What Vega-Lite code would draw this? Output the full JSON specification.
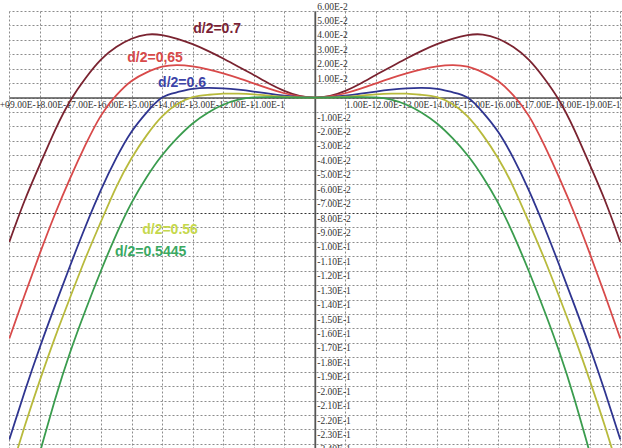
{
  "$schema": "https://vega.github.io/schema/vega-lite/v6.json",
  "width": 613,
  "height": 437,
  "autosize": "none",
  "padding": {"left": 9, "top": 11, "right": 0, "bottom": 0},
  "background": "white",
  "config": {"view": {"stroke": null}},
  "datasets": {
    "curves": [
      {"s":"0.7","x":-1,"y":-0.1},{"s":"0.7","x":-0.95,"y":-0.0715},{"s":"0.7","x":-0.9,"y":-0.0465},{"s":"0.7","x":-0.85,"y":-0.0225},{"s":"0.7","x":-0.8,"y":-0.002},{"s":"0.7","x":-0.75,"y":0.0136},{"s":"0.7","x":-0.7,"y":0.0263},{"s":"0.7","x":-0.65,"y":0.035},{"s":"0.7","x":-0.6,"y":0.0408},{"s":"0.7","x":-0.55,"y":0.0437},{"s":"0.7","x":-0.5,"y":0.0433},{"s":"0.7","x":-0.45,"y":0.0407},{"s":"0.7","x":-0.4,"y":0.037},{"s":"0.7","x":-0.35,"y":0.0324},{"s":"0.7","x":-0.3,"y":0.0271},{"s":"0.7","x":-0.25,"y":0.0214},{"s":"0.7","x":-0.2,"y":0.0157},{"s":"0.7","x":-0.15,"y":0.0098},{"s":"0.7","x":-0.1,"y":0.0047},{"s":"0.7","x":-0.05,"y":0.0012},{"s":"0.7","x":0,"y":0},
      {"s":"0.7","x":0.05,"y":0.0012},{"s":"0.7","x":0.1,"y":0.0047},{"s":"0.7","x":0.15,"y":0.0098},{"s":"0.7","x":0.2,"y":0.0157},{"s":"0.7","x":0.25,"y":0.0214},{"s":"0.7","x":0.3,"y":0.0271},{"s":"0.7","x":0.35,"y":0.0324},{"s":"0.7","x":0.4,"y":0.037},{"s":"0.7","x":0.45,"y":0.0407},{"s":"0.7","x":0.5,"y":0.0433},{"s":"0.7","x":0.55,"y":0.0437},{"s":"0.7","x":0.6,"y":0.0408},{"s":"0.7","x":0.65,"y":0.035},{"s":"0.7","x":0.7,"y":0.0263},{"s":"0.7","x":0.75,"y":0.0136},{"s":"0.7","x":0.8,"y":-0.002},{"s":"0.7","x":0.85,"y":-0.0225},{"s":"0.7","x":0.9,"y":-0.0465},{"s":"0.7","x":0.95,"y":-0.0715},{"s":"0.7","x":1,"y":-0.1},

      {"s":"0.65","x":-1,"y":-0.167},{"s":"0.65","x":-0.95,"y":-0.137},{"s":"0.65","x":-0.9,"y":-0.108},{"s":"0.65","x":-0.85,"y":-0.0805},{"s":"0.65","x":-0.8,"y":-0.0555},{"s":"0.65","x":-0.75,"y":-0.0325},{"s":"0.65","x":-0.7,"y":-0.0125},{"s":"0.65","x":-0.65,"y":0.0015},{"s":"0.65","x":-0.6,"y":0.0115},{"s":"0.65","x":-0.55,"y":0.0175},{"s":"0.65","x":-0.5,"y":0.0214},{"s":"0.65","x":-0.45,"y":0.0225},{"s":"0.65","x":-0.4,"y":0.0216},{"s":"0.65","x":-0.35,"y":0.0196},{"s":"0.65","x":-0.3,"y":0.0168},{"s":"0.65","x":-0.25,"y":0.0135},{"s":"0.65","x":-0.2,"y":0.0098},{"s":"0.65","x":-0.15,"y":0.0062},{"s":"0.65","x":-0.1,"y":0.003},{"s":"0.65","x":-0.05,"y":0.0008},{"s":"0.65","x":0,"y":0},
      {"s":"0.65","x":0.05,"y":0.0008},{"s":"0.65","x":0.1,"y":0.003},{"s":"0.65","x":0.15,"y":0.0062},{"s":"0.65","x":0.2,"y":0.0098},{"s":"0.65","x":0.25,"y":0.0135},{"s":"0.65","x":0.3,"y":0.0168},{"s":"0.65","x":0.35,"y":0.0196},{"s":"0.65","x":0.4,"y":0.0216},{"s":"0.65","x":0.45,"y":0.0225},{"s":"0.65","x":0.5,"y":0.0214},{"s":"0.65","x":0.55,"y":0.0175},{"s":"0.65","x":0.6,"y":0.0115},{"s":"0.65","x":0.65,"y":0.0015},{"s":"0.65","x":0.7,"y":-0.0125},{"s":"0.65","x":0.75,"y":-0.0325},{"s":"0.65","x":0.8,"y":-0.0555},{"s":"0.65","x":0.85,"y":-0.0805},{"s":"0.65","x":0.9,"y":-0.108},{"s":"0.65","x":0.95,"y":-0.137},{"s":"0.65","x":1,"y":-0.167},

      {"s":"0.6","x":-1,"y":-0.237},{"s":"0.6","x":-0.95,"y":-0.204},{"s":"0.6","x":-0.9,"y":-0.173},{"s":"0.6","x":-0.85,"y":-0.144},{"s":"0.6","x":-0.8,"y":-0.116},{"s":"0.6","x":-0.75,"y":-0.089},{"s":"0.6","x":-0.7,"y":-0.064},{"s":"0.6","x":-0.65,"y":-0.042},{"s":"0.6","x":-0.6,"y":-0.0237},{"s":"0.6","x":-0.55,"y":-0.0102},{"s":"0.6","x":-0.5,"y":0},{"s":"0.6","x":-0.45,"y":0.0037},{"s":"0.6","x":-0.4,"y":0.006},{"s":"0.6","x":-0.35,"y":0.0067},{"s":"0.6","x":-0.3,"y":0.0064},{"s":"0.6","x":-0.25,"y":0.0055},{"s":"0.6","x":-0.2,"y":0.0042},{"s":"0.6","x":-0.15,"y":0.0027},{"s":"0.6","x":-0.1,"y":0.0013},{"s":"0.6","x":-0.05,"y":0.0003},{"s":"0.6","x":0,"y":0},
      {"s":"0.6","x":0.05,"y":0.0003},{"s":"0.6","x":0.1,"y":0.0013},{"s":"0.6","x":0.15,"y":0.0027},{"s":"0.6","x":0.2,"y":0.0042},{"s":"0.6","x":0.25,"y":0.0055},{"s":"0.6","x":0.3,"y":0.0064},{"s":"0.6","x":0.35,"y":0.0067},{"s":"0.6","x":0.4,"y":0.006},{"s":"0.6","x":0.45,"y":0.0037},{"s":"0.6","x":0.5,"y":0},{"s":"0.6","x":0.55,"y":-0.0102},{"s":"0.6","x":0.6,"y":-0.0237},{"s":"0.6","x":0.65,"y":-0.042},{"s":"0.6","x":0.7,"y":-0.064},{"s":"0.6","x":0.75,"y":-0.089},{"s":"0.6","x":0.8,"y":-0.116},{"s":"0.6","x":0.85,"y":-0.144},{"s":"0.6","x":0.9,"y":-0.173},{"s":"0.6","x":0.95,"y":-0.204},{"s":"0.6","x":1,"y":-0.237},

      {"s":"0.56","x":-1,"y":-0.262},{"s":"0.56","x":-0.95,"y":-0.228},{"s":"0.56","x":-0.9,"y":-0.196},{"s":"0.56","x":-0.85,"y":-0.166},{"s":"0.56","x":-0.8,"y":-0.138},{"s":"0.56","x":-0.75,"y":-0.111},{"s":"0.56","x":-0.7,"y":-0.086},{"s":"0.56","x":-0.65,"y":-0.062},{"s":"0.56","x":-0.6,"y":-0.042},{"s":"0.56","x":-0.55,"y":-0.026},{"s":"0.56","x":-0.5,"y":-0.013},{"s":"0.56","x":-0.45,"y":-0.0045},{"s":"0.56","x":-0.4,"y":0.0003},{"s":"0.56","x":-0.35,"y":0.0019},{"s":"0.56","x":-0.3,"y":0.0027},{"s":"0.56","x":-0.25,"y":0.0027},{"s":"0.56","x":-0.2,"y":0.0022},{"s":"0.56","x":-0.15,"y":0.0014},{"s":"0.56","x":-0.1,"y":0.0006},{"s":"0.56","x":-0.05,"y":0.0001},{"s":"0.56","x":0,"y":0},
      {"s":"0.56","x":0.05,"y":0.0001},{"s":"0.56","x":0.1,"y":0.0006},{"s":"0.56","x":0.15,"y":0.0014},{"s":"0.56","x":0.2,"y":0.0022},{"s":"0.56","x":0.25,"y":0.0027},{"s":"0.56","x":0.3,"y":0.0027},{"s":"0.56","x":0.35,"y":0.0019},{"s":"0.56","x":0.4,"y":0.0003},{"s":"0.56","x":0.45,"y":-0.0045},{"s":"0.56","x":0.5,"y":-0.013},{"s":"0.56","x":0.55,"y":-0.026},{"s":"0.56","x":0.6,"y":-0.042},{"s":"0.56","x":0.65,"y":-0.062},{"s":"0.56","x":0.7,"y":-0.086},{"s":"0.56","x":0.75,"y":-0.111},{"s":"0.56","x":0.8,"y":-0.138},{"s":"0.56","x":0.85,"y":-0.166},{"s":"0.56","x":0.9,"y":-0.196},{"s":"0.56","x":0.95,"y":-0.228},{"s":"0.56","x":1,"y":-0.262},

      {"s":"0.5445","x":-1,"y":-0.322},{"s":"0.5445","x":-0.95,"y":-0.283},{"s":"0.5445","x":-0.9,"y":-0.246},{"s":"0.5445","x":-0.85,"y":-0.209},{"s":"0.5445","x":-0.8,"y":-0.176},{"s":"0.5445","x":-0.75,"y":-0.147},{"s":"0.5445","x":-0.7,"y":-0.12},{"s":"0.5445","x":-0.65,"y":-0.095},{"s":"0.5445","x":-0.6,"y":-0.073},{"s":"0.5445","x":-0.55,"y":-0.055},{"s":"0.5445","x":-0.5,"y":-0.04},{"s":"0.5445","x":-0.45,"y":-0.028},{"s":"0.5445","x":-0.4,"y":-0.018},{"s":"0.5445","x":-0.35,"y":-0.0105},{"s":"0.5445","x":-0.3,"y":-0.005},{"s":"0.5445","x":-0.25,"y":-0.0015},{"s":"0.5445","x":-0.2,"y":0.0001},{"s":"0.5445","x":-0.15,"y":0.0003},{"s":"0.5445","x":-0.1,"y":0.0002},{"s":"0.5445","x":-0.05,"y":0},{"s":"0.5445","x":0,"y":0},
      {"s":"0.5445","x":0.05,"y":0},{"s":"0.5445","x":0.1,"y":0.0002},{"s":"0.5445","x":0.15,"y":0.0003},{"s":"0.5445","x":0.2,"y":0.0001},{"s":"0.5445","x":0.25,"y":-0.0015},{"s":"0.5445","x":0.3,"y":-0.005},{"s":"0.5445","x":0.35,"y":-0.0105},{"s":"0.5445","x":0.4,"y":-0.018},{"s":"0.5445","x":0.45,"y":-0.028},{"s":"0.5445","x":0.5,"y":-0.04},{"s":"0.5445","x":0.55,"y":-0.055},{"s":"0.5445","x":0.6,"y":-0.073},{"s":"0.5445","x":0.65,"y":-0.095},{"s":"0.5445","x":0.7,"y":-0.12},{"s":"0.5445","x":0.75,"y":-0.147},{"s":"0.5445","x":0.8,"y":-0.176},{"s":"0.5445","x":0.85,"y":-0.209},{"s":"0.5445","x":0.9,"y":-0.246},{"s":"0.5445","x":0.95,"y":-0.283},{"s":"0.5445","x":1,"y":-0.322}
    ],
    "labels": [
      {"s":"0.7","label":"d/2=0.7","x":-0.398,"y":0.0475},
      {"s":"0.65","label":"d/2=0,65","x":-0.614,"y":0.0274},
      {"s":"0.6","label":"d/2=0.6","x":-0.513,"y":0.0100},
      {"s":"0.56","label":"d/2=0.56","x":-0.565,"y":-0.0918},
      {"s":"0.5445","label":"d/2=0.5445","x":-0.654,"y":-0.107}
    ]
  },
  "encoding": {
    "x": {
      "field": "x", "type": "quantitative",
      "scale": {"domain": [-1.001, 1.0055], "nice": false, "zero": false},
      "axis": {
        "orient": "bottom", "offset": -350.4, "title": null,
        "values": [-1,-0.9,-0.8,-0.7,-0.6,-0.5,-0.4,-0.3,-0.2,-0.1,0,0.1,0.2,0.3,0.4,0.5,0.6,0.7,0.8,0.9,1],
        "grid": true, "gridColor": "#8c8c8c", "gridDash": [2, 2], "gridWidth": 1,
        "domain": true, "domainColor": "#555555", "domainWidth": 1.5,
        "ticks": false, "labelPadding": 2,
        "labelFont": "Liberation Serif", "labelFontSize": 9.5, "labelColor": "#333333",
        "labelAlign": {"condition": {"test": "datum.value < 0", "value": "right"}, "value": "left"},
        "labelBaseline": "top", "labelOverlap": false, "labelBound": false, "labelFlush": false,
        "labelExpr": "datum.value == 0 ? '' : (datum.value < 0 ? '-' : '') + replace(format(abs(datum.value), '.2e'), 'e', 'E')"
      }
    },
    "y": {
      "field": "y", "type": "quantitative",
      "scale": {"domain": [-0.24284, 0.06], "nice": false, "zero": false},
      "axis": {
        "orient": "right", "offset": -307.2, "title": null,
        "values": [-0.24,-0.23,-0.22,-0.21,-0.2,-0.19,-0.18,-0.17,-0.16,-0.15,-0.14,-0.13,-0.12,-0.11,-0.1,-0.09,-0.08,-0.07,-0.06,-0.05,-0.04,-0.03,-0.02,-0.01,0,0.01,0.02,0.03,0.04,0.05,0.06],
        "grid": true, "gridColor": {"condition": {"test": "abs(datum.value + 0.08) < 0.0001", "value": "#333333"}, "value": "#8c8c8c"}, "gridDash": [2, 2], "gridWidth": 1,
        "domain": true, "domainColor": "#555555", "domainWidth": 1.8,
        "ticks": false, "labelPadding": 2,
        "labelFont": "Liberation Serif", "labelFontSize": 9.5, "labelColor": "#333333",
        "labelAlign": "left",
        "labelBaseline": {"condition": {"test": "datum.value > 0", "value": "bottom"}, "value": "top"},
        "labelOverlap": false, "labelBound": false, "labelFlush": false,
        "labelExpr": "datum.value == 0 ? '' : (datum.value < 0 ? '-' : '') + replace(format(abs(datum.value), '.2e'), 'e', 'E')"
      }
    }
  },
  "layer": [
    {
      "data": {"name": "curves"},
      "mark": {"type": "line", "strokeWidth": 1.8, "interpolate": "natural", "clip": true},
      "encoding": {
        "color": {
          "field": "s", "type": "nominal",
          "scale": {"domain": ["0.7", "0.65", "0.6", "0.56", "0.5445"], "range": ["#7a2330", "#d84a4a", "#2f3590", "#b8ba3c", "#3a9c4e"]},
          "legend": null
        }
      }
    },
    {
      "data": {"name": "labels"},
      "mark": {"type": "text", "align": "left", "baseline": "middle", "font": "Liberation Sans", "fontSize": 14, "fontWeight": "bold"},
      "encoding": {
        "text": {"field": "label"},
        "fill": {
          "field": "s", "type": "nominal",
          "scale": {"domain": ["0.7", "0.65", "0.6", "0.56", "0.5445"], "range": ["#7a1f35", "#d84a4a", "#3d44a8", "#c5d84c", "#3aa862"]},
          "legend": null
        }
      }
    }
  ]
}
